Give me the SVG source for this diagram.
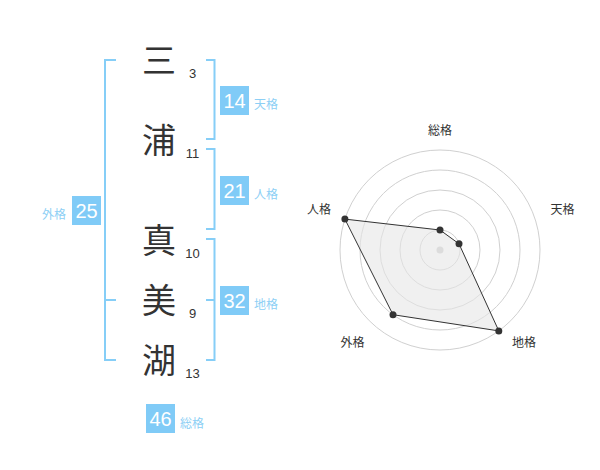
<svg xmlns="http://www.w3.org/2000/svg" width="600" height="470" viewBox="0 0 600 470">
<style>
.ch{font-family:"Noto Sans CJK JP","Noto Sans CJK SC",sans-serif;font-size:34px;fill:#333;text-anchor:middle}
.num{font-family:"Liberation Sans",Arial,sans-serif;font-size:13px;fill:#333;text-anchor:middle}
.box{fill:#80cbf7}
.bv{font-family:"Liberation Sans",Arial,sans-serif;font-size:20px;fill:#fff;text-anchor:middle}
.lb{font-family:"Noto Sans CJK JP","Noto Sans CJK SC",sans-serif;font-size:12px;fill:#8dcff5}
.br{fill:none;stroke:#86cef7;stroke-width:2}
.ring{fill:none;stroke:#d0d0d0;stroke-width:1}
.rl{font-family:"Noto Sans CJK JP","Noto Sans CJK SC",sans-serif;font-size:12px;fill:#333;text-anchor:middle}
.dot{fill:#333}
</style>
<rect width="600" height="470" fill="#fff"/>
<g id="connectors">
<path class="br" d="M116,60 H105 V360 H116 M105,300 H116"/>
<path class="br" d="M206,60 H214.5 V139 H206"/>
<path class="br" d="M206,149 H214.5 V229 H206"/>
<path class="br" d="M206,239 H214.5 V360 H206 M206,300 H214.5"/>
</g>
<g id="char-1"><text class="ch" x="159" y="73">三</text><text class="num" x="192.5" y="78">3</text></g>
<g id="char-2"><text class="ch" x="159" y="153">浦</text><text class="num" x="192.5" y="158">11</text></g>
<g id="char-3"><text class="ch" x="159" y="253">真</text><text class="num" x="192.5" y="258">10</text></g>
<g id="char-4"><text class="ch" x="159" y="313">美</text><text class="num" x="192.5" y="318">9</text></g>
<g id="char-5"><text class="ch" x="159" y="373">湖</text><text class="num" x="192.5" y="378">13</text></g>
<g id="tenkaku"><rect class="box" x="220" y="86" width="29" height="29"/><text class="bv" x="234.5" y="108">14</text><text class="lb" x="254" y="109">天格</text></g>
<g id="jinkaku"><rect class="box" x="220" y="176" width="29" height="29"/><text class="bv" x="234.5" y="198">21</text><text class="lb" x="254" y="199">人格</text></g>
<g id="chikaku"><rect class="box" x="220" y="286" width="29" height="29"/><text class="bv" x="234.5" y="308">32</text><text class="lb" x="254" y="309">地格</text></g>
<g id="gaikaku"><rect class="box" x="72" y="196" width="29" height="29"/><text class="bv" x="86.5" y="218">25</text><text class="lb" x="66" y="219" text-anchor="end">外格</text></g>
<g id="soukaku"><rect class="box" x="146" y="404" width="29" height="29"/><text class="bv" x="160.5" y="426">46</text><text class="lb" x="180" y="428">総格</text></g>
<g id="radar">
<circle class="ring" cx="440" cy="250" r="20"/>
<circle class="ring" cx="440" cy="250" r="40"/>
<circle class="ring" cx="440" cy="250" r="60"/>
<circle class="ring" cx="440" cy="250" r="80"/>
<circle class="ring" cx="440" cy="250" r="100"/>
<circle cx="440" cy="250" r="3.5" fill="#ccc"/>
<polygon points="440,230 459,243.8 498.8,330.9 393,314.7 344.9,219.1" fill="#e6e6e6" fill-opacity="0.6" stroke="#333" stroke-width="1"/>
<circle class="dot" cx="440" cy="230" r="3.5"/>
<circle class="dot" cx="459" cy="243.8" r="3.5"/>
<circle class="dot" cx="498.8" cy="330.9" r="3.5"/>
<circle class="dot" cx="393" cy="314.7" r="3.5"/>
<circle class="dot" cx="344.9" cy="219.1" r="3.5"/>
<text class="rl" x="440" y="135">総格</text>
<text class="rl" x="562.5" y="214">天格</text>
<text class="rl" x="319" y="214">人格</text>
<text class="rl" x="352.5" y="347">外格</text>
<text class="rl" x="524" y="347">地格</text>
</g>
</svg>
